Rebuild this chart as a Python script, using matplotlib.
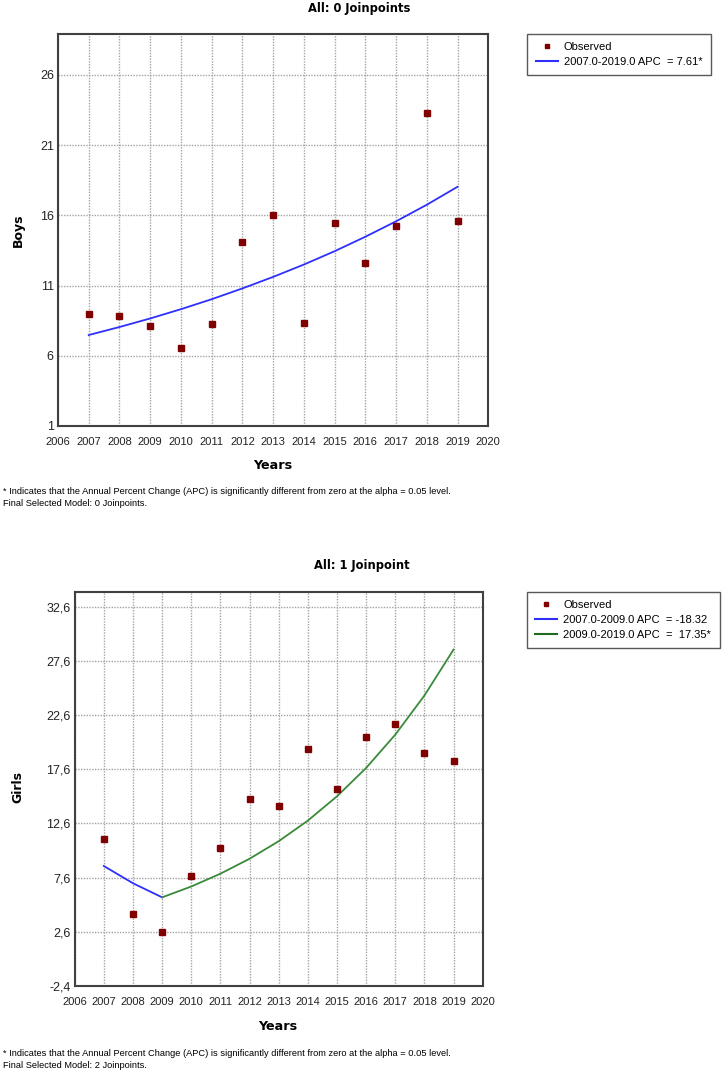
import matplotlib
matplotlib.use("Agg")
import matplotlib.pyplot as plt
from matplotlib.lines import Line2D

# ---------------- data ----------------
years = [2007, 2008, 2009, 2010, 2011, 2012, 2013, 2014, 2015, 2016, 2017, 2018, 2019]
boys_obs = [8.96, 8.83, 8.14, 6.56, 8.24, 14.13, 16.0, 8.34, 15.44, 12.63, 15.22, 23.32, 15.63]
boys_fit = [7.48, 8.05, 8.66, 9.32, 10.03, 10.80, 11.62, 12.50, 13.45, 14.48, 15.58, 16.76, 18.04]

girls_obs = [11.14, 4.24, 2.55, 7.75, 10.36, 14.88, 14.18, 19.47, 15.78, 20.57, 21.77, 19.07, 18.39]
girls_fit1_years = [2007, 2008, 2009]
girls_fit1 = [8.67, 7.08, 5.78]
girls_fit2_years = [2009, 2010, 2011, 2012, 2013, 2014, 2015, 2016, 2017, 2018, 2019]
girls_fit2 = [5.78, 6.78, 7.96, 9.34, 10.96, 12.86, 15.10, 17.72, 20.79, 24.40, 28.64]

x_ticks = list(range(2006, 2021))
boys_yticks = [1, 6, 11, 16, 21, 26]
girls_yticks = [-2.4, 2.6, 7.6, 12.6, 17.6, 22.6, 27.6, 32.6]
girls_ytick_labels = ["-2,4", "2,6", "7,6", "12,6", "17,6", "22,6", "27,6", "32,6"]

boys_legend = ["Observed", "2007.0-2019.0 APC  = 7.61*"]
girls_legend = ["Observed", "2007.0-2009.0 APC  = -18.32", "2009.0-2019.0 APC  =  17.35*"]

title_top = "All: 0 Joinpoints"
title_bottom = "All: 1 Joinpoint"
foot1 = "* Indicates that the Annual Percent Change (APC) is significantly different from zero at the alpha = 0.05 level."
foot_top = "Final Selected Model: 0 Joinpoints."
foot_bottom = "Final Selected Model: 2 Joinpoints."

# ---------------- style ----------------
W, H = 726, 1073
fig = plt.figure(figsize=(W / 100, H / 100), dpi=100)
fig.patch.set_facecolor("white")

SANS = ["Liberation Sans", "DejaVu Sans"]
BOLD = ["DejaVu Sans"]
MARK = "#800000"
BLUE = "#2f2fff"
GREEN = "#3a8a3a"
GRID = "#a4a4a4"


def fx(x):
    return x / W


def fy(y):
    return 1 - y / H


def make_axes(left, right, top, bottom):
    return fig.add_axes([fx(left), fy(bottom), (right - left) / W, (bottom - top) / H])


def style_axes(ax, yticks, ylabels, ylim):
    ax.set_xlim(2006, 2020)
    ax.set_ylim(*ylim)
    ax.set_xticks(x_ticks)
    ax.set_xticklabels([str(t) for t in x_ticks], fontfamily=SANS, fontsize=8)
    ax.set_yticks(yticks)
    ax.set_yticklabels(ylabels, fontfamily=SANS, fontsize=9)
    ax.tick_params(axis="both", length=0, colors="#222222")
    ax.tick_params(axis="x", pad=8)
    ax.tick_params(axis="y", pad=3)
    ax.grid(True, color=GRID, linestyle=(0, (1, 1)), linewidth=1.0)
    ax.set_axisbelow(True)
    for s in ax.spines.values():
        s.set_color("#404040")
        s.set_linewidth(1.5)


def make_legend(handles, labels, left_px, top_px):
    leg = fig.legend(handles, labels, loc="upper left",
                     bbox_to_anchor=(fx(left_px), fy(top_px)),
                     bbox_transform=fig.transFigure,
                     prop={"family": SANS, "size": 8},
                     frameon=True, fancybox=False, shadow=False,
                     borderpad=0.75, labelspacing=0.45, handlelength=2.0,
                     handletextpad=0.55, borderaxespad=0)
    fr = leg.get_frame()
    fr.set_edgecolor("#303030")
    fr.set_linewidth(1.0)
    return leg


# ---------------- top chart ----------------
ax1 = make_axes(58, 488.3, 34, 426)
style_axes(ax1, boys_yticks, [str(t) for t in boys_yticks], (1, 28.92))
ax1.plot(years, boys_fit, color=BLUE, lw=1.3, zorder=3)
ax1.plot(years, boys_obs, linestyle="none", marker="s", ms=4.5, color=MARK, zorder=4)

fig.text(fx(359), fy(8.5), title_top, ha="center", va="center",
         fontfamily=BOLD, fontweight="bold", fontsize=8.3)
fig.text(fx(273), fy(466), "Years", ha="center", va="center",
         fontfamily=BOLD, fontweight="bold", fontsize=9.2)
fig.text(fx(18), fy(230), "Boys", ha="center", va="center", rotation=90,
         fontfamily=BOLD, fontweight="bold", fontsize=9)
fig.text(fx(3), fy(491.3), foot1, ha="left", va="center", fontfamily=SANS, fontsize=6.7)
fig.text(fx(3), fy(503.7), foot_top, ha="left", va="center", fontfamily=SANS, fontsize=6.7)

h_obs = Line2D([], [], linestyle="none", marker="s", ms=3.5, color=MARK)
h_blue = Line2D([], [], color=BLUE, lw=1.5)
h_green = Line2D([], [], color="#1f6b1f", lw=1.5)
make_legend([h_obs, h_blue], boys_legend, 527.3, 33.7)

# ---------------- bottom chart ----------------
ax2 = make_axes(74.7, 482.7, 591.7, 986)
style_axes(ax2, girls_yticks, girls_ytick_labels, (-2.4, 33.98))
ax2.plot(girls_fit1_years, girls_fit1, color=BLUE, lw=1.3, zorder=3)
ax2.plot(girls_fit2_years, girls_fit2, color=GREEN, lw=1.3, zorder=3)
ax2.plot(years, girls_obs, linestyle="none", marker="s", ms=4.5, color=MARK, zorder=4)

fig.text(fx(361.7), fy(565.7), title_bottom, ha="center", va="center",
         fontfamily=BOLD, fontweight="bold", fontsize=8.3)
fig.text(fx(278), fy(1026.7), "Years", ha="center", va="center",
         fontfamily=BOLD, fontweight="bold", fontsize=9.2)
fig.text(fx(18), fy(787), "Girls", ha="center", va="center", rotation=90,
         fontfamily=BOLD, fontweight="bold", fontsize=9)
fig.text(fx(3), fy(1053.3), foot1, ha="left", va="center", fontfamily=SANS, fontsize=6.7)
fig.text(fx(3), fy(1065), foot_bottom, ha="left", va="center", fontfamily=SANS, fontsize=6.7)

make_legend([h_obs, h_blue, h_green], girls_legend, 526.7, 591.7)

fig.savefig("out.png", dpi=100, facecolor="white")
